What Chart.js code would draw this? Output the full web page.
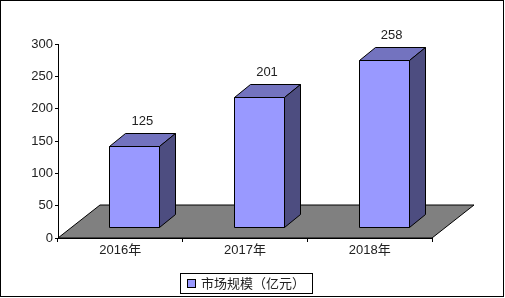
<!DOCTYPE html>
<html>
<head>
<meta charset="utf-8">
<script src="https://cdn.jsdelivr.net/npm/chart.js@4/dist/chart.umd.min.js"></script>
<style>
  html, body { margin: 0; padding: 0; background: #fff; }
  #wrap { width: 505px; height: 298px; }
</style>
</head>
<body>
<div id="wrap"><canvas id="marketChart" width="505" height="298"></canvas></div>
<script>
// chart data
const years = ['2016年', '2017年', '2018年'];
const marketSize = [125, 201, 258];
const seriesName = '市场规模（亿元）';
const yTicks = [0, 50, 100, 150, 200, 250, 300];

const fontFamily = '"Liberation Sans", Arial, "Noto Sans CJK SC", sans-serif';
const frontColor = '#9999ff';
const topColor = '#7373bf';
const sideColor = '#4d4d80';
const floorColor = '#808080';

// 3d offsets (px)
const floorDepth = { x: 42, y: -33 };
const barShift = { x: 14, y: -11 };
const barDepth = { x: 16, y: -13 };

function poly(ctx, pts, fill) {
  ctx.beginPath();
  ctx.moveTo(pts[0][0], pts[0][1]);
  for (let i = 1; i < pts.length; i++) ctx.lineTo(pts[i][0], pts[i][1]);
  ctx.closePath();
  ctx.fillStyle = fill;
  ctx.fill();
  ctx.stroke();
}

const bars3d = {
  id: 'bars3d',
  beforeDatasetsDraw(chart) {
    const ctx = chart.ctx;
    const a = chart.chartArea;
    ctx.save();
    ctx.strokeStyle = '#000';
    ctx.lineWidth = 1;
    poly(ctx, [
      [a.left, a.bottom],
      [a.left + floorDepth.x, a.bottom + floorDepth.y],
      [a.right + floorDepth.x, a.bottom + floorDepth.y],
      [a.right, a.bottom]
    ], floorColor);
    ctx.restore();
  },
  afterDatasetsDraw(chart) {
    const ctx = chart.ctx;
    const meta = chart.getDatasetMeta(0);
    ctx.save();
    ctx.strokeStyle = '#000';
    ctx.lineWidth = 1;
    meta.data.forEach((el, i) => {
      const L = Math.round(el.x - el.width / 2 + barShift.x) + 0.5;
      const R = Math.round(el.x + el.width / 2 + barShift.x) + 0.5;
      const T = Math.round(el.y + barShift.y) + 0.5;
      const B = Math.round(el.base + barShift.y) + 0.5;
      poly(ctx, [[L, T], [R, T], [R, B], [L, B]], frontColor);
      poly(ctx, [[L, T], [L + barDepth.x, T + barDepth.y], [R + barDepth.x, T + barDepth.y], [R, T]], topColor);
      poly(ctx, [[R, T], [R + barDepth.x, T + barDepth.y], [R + barDepth.x, B + barDepth.y], [R, B]], sideColor);

      ctx.fillStyle = '#222';
      ctx.font = '13px ' + fontFamily;
      ctx.textAlign = 'center';
      ctx.textBaseline = 'middle';
      ctx.fillText(String(marketSize[i]), el.x + barShift.x + barDepth.x / 2, el.y + barShift.y + barDepth.y - 12);
    });
    ctx.restore();
  },
  afterDraw(chart) {
    const ctx = chart.ctx;
    ctx.save();
    // legend box
    ctx.font = '13px ' + fontFamily;
    const tw = ctx.measureText(seriesName).width;
    const lx = 180, ly = 273.5, lh = 20;
    const lw = tw + 28;
    ctx.strokeStyle = '#000';
    ctx.lineWidth = 1;
    ctx.strokeRect(lx + 0.5, ly, lw, lh);
    ctx.fillStyle = frontColor;
    ctx.fillRect(187.5, 279.5, 8, 8);
    ctx.strokeRect(187.5, 279.5, 8, 8);
    ctx.fillStyle = '#222';
    ctx.textAlign = 'left';
    ctx.textBaseline = 'middle';
    ctx.fillText(seriesName, 201, 284);
    // outer frame
    ctx.strokeRect(0.5, 0.5, 503, 296);
    ctx.restore();
  }
};

new Chart(document.getElementById('marketChart'), {
  type: 'bar',
  data: {
    labels: years,
    datasets: [{
      label: seriesName,
      data: marketSize,
      backgroundColor: 'rgba(0,0,0,0)',
      borderWidth: 0,
      barPercentage: 0.4,
      categoryPercentage: 1
    }]
  },
  options: {
    responsive: false,
    animation: false,
    events: [],
    layout: { padding: { left: 0, top: 44, right: 73, bottom: 0 } },
    plugins: {
      legend: { display: false },
      tooltip: { enabled: false }
    },
    scales: {
      x: {
        afterFit(scale) { scale.height = 60; },
        border: { color: '#000', width: 1 },
        grid: { drawOnChartArea: false, color: '#000', tickLength: 4, offset: true },
        ticks: { color: '#222', padding: 1, font: { family: fontFamily, size: 13 } }
      },
      y: {
        min: 0,
        max: 300,
        afterFit(scale) { scale.width = 58; },
        afterBuildTicks(scale) { scale.ticks = yTicks.map(v => ({ value: v })); },
        border: { color: '#000', width: 1 },
        grid: { drawOnChartArea: false, color: '#000', tickLength: 3 },
        ticks: { color: '#222', padding: 2, font: { family: fontFamily, size: 13 } }
      }
    }
  },
  plugins: [bars3d]
});
</script>
</body>
</html>
